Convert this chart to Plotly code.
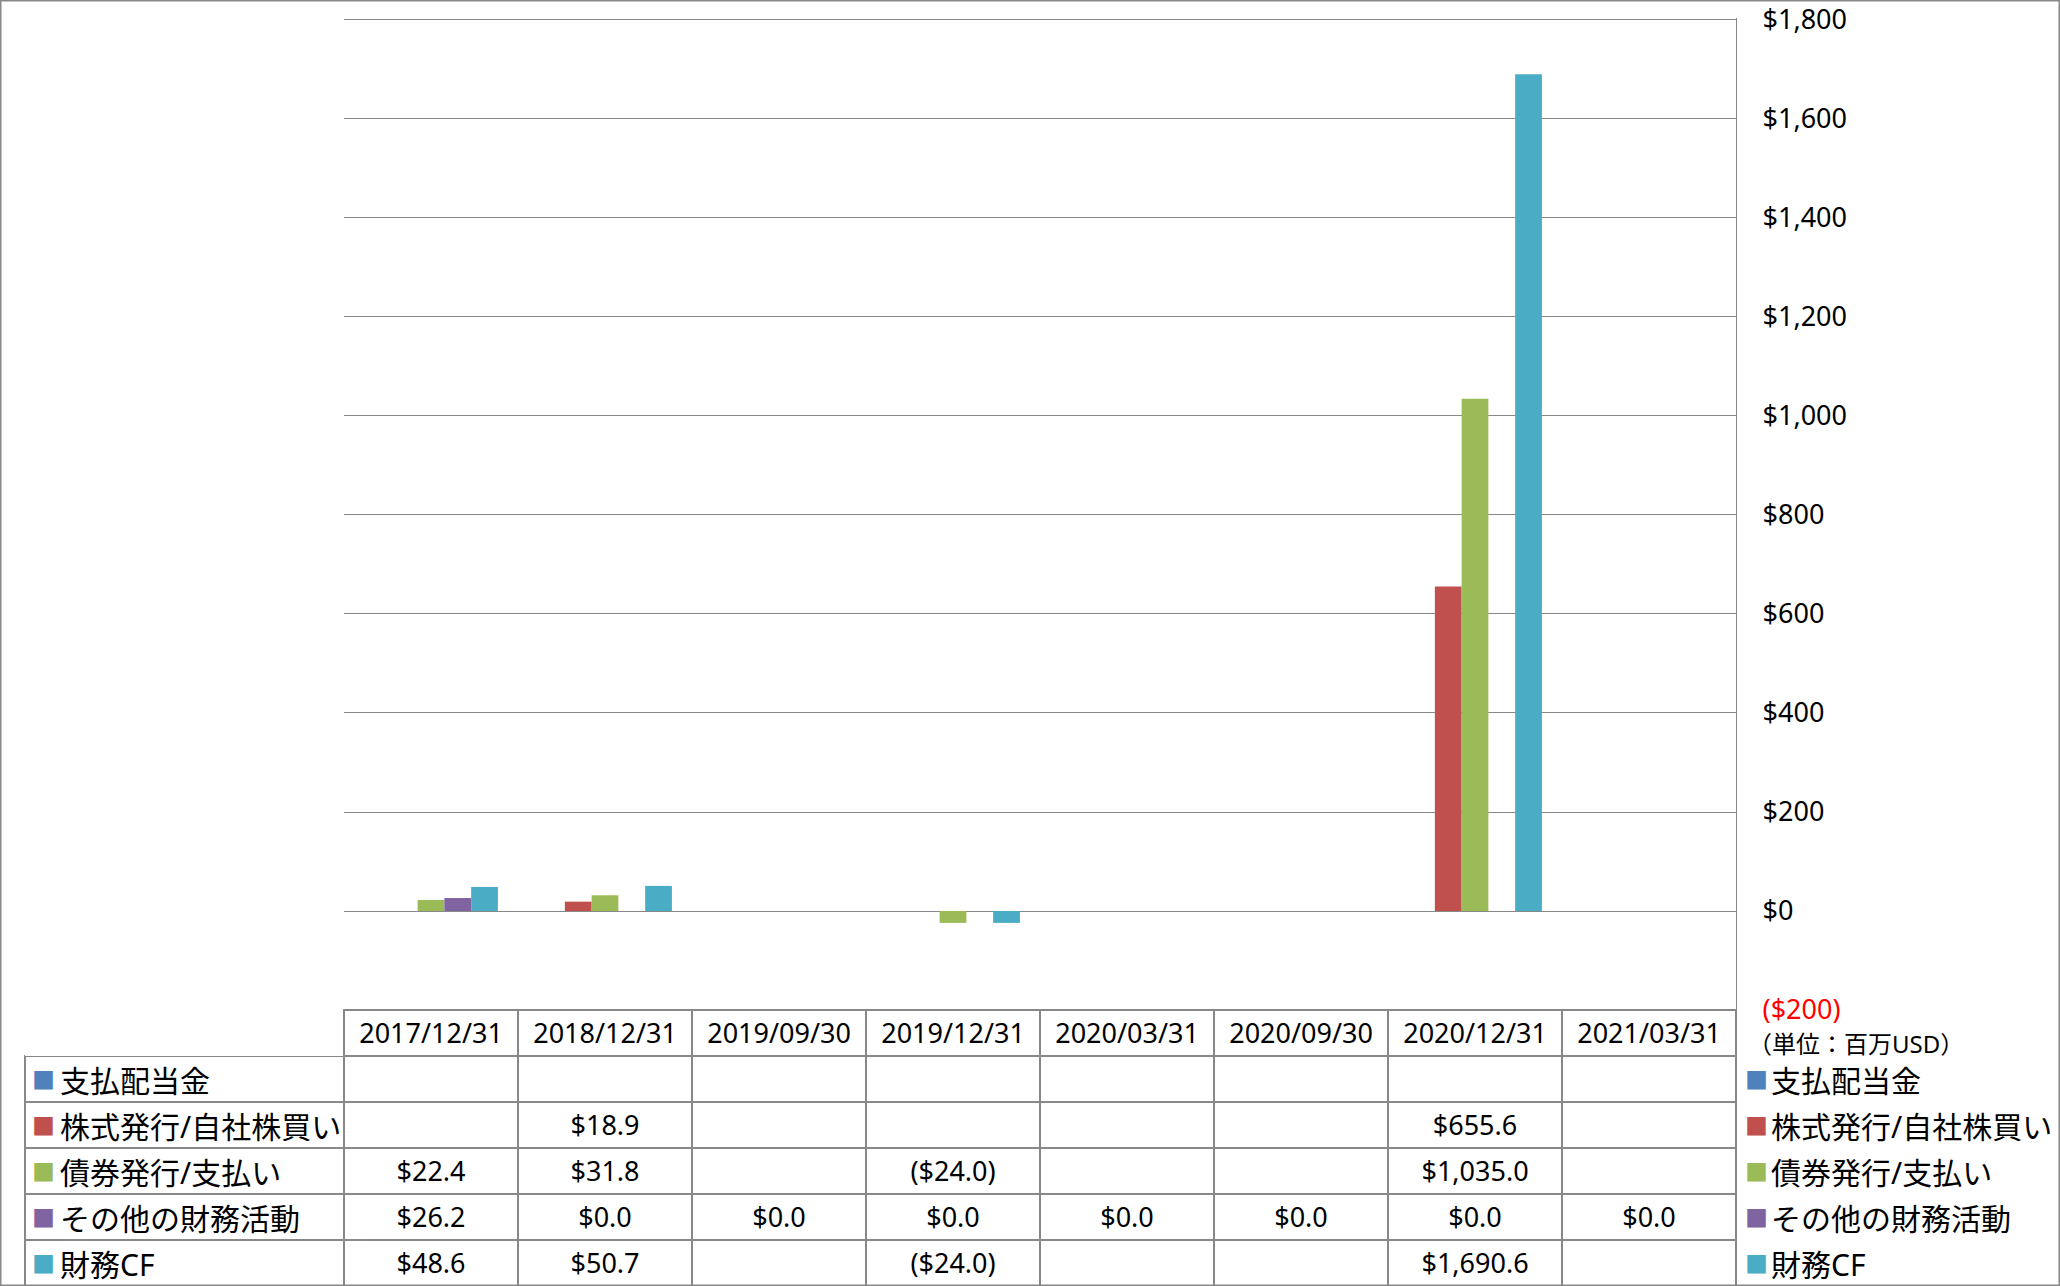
import plotly.graph_objects as go

# ---------------- data ----------------
categories = ["2017/12/31", "2018/12/31", "2019/09/30", "2019/12/31",
              "2020/03/31", "2020/09/30", "2020/12/31", "2021/03/31"]
series_names = ["支払配当金", "株式発行/自社株買い", "債券発行/支払い", "その他の財務活動", "財務CF"]
dividends = [None, None, None, None, None, None, None, None]
stock_issue = [None, 18.9, None, None, None, None, 655.6, None]
debt_issue = [22.4, 31.8, None, -24.0, None, None, 1035.0, None]
other_fin = [26.2, 0.0, 0.0, 0.0, 0.0, 0.0, 0.0, 0.0]
financing_cf = [48.6, 50.7, None, -24.0, None, None, 1690.6, None]
series_values = [dividends, stock_issue, debt_issue, other_fin, financing_cf]
series_colors = ["#4F81BD", "#C0504D", "#9BBB59", "#8064A2", "#4BACC6"]
y_tickvals = [-200, 0, 200, 400, 600, 800, 1000, 1200, 1400, 1600, 1800]
y_ticktext = ["<span style='color:#FF0000'>($200)</span>", "$0", "$200", "$400", "$600",
              "$800", "$1,000", "$1,200", "$1,400", "$1,600", "$1,800"]
unit_label = "（単位：百万USD）"

W, H = 2060, 1286
FONT = "Noto Sans, Noto Sans CJK JP, sans-serif"
GRID = "#888888"
CLEAR = "rgba(0,0,0,0)"


def fmt(v):
    if v is None:
        return ""
    if v < 0:
        return "(${:,.1f})".format(abs(v))
    return "${:,.1f}".format(v)


fig = go.Figure()

for name, vals, col in zip(series_names, series_values, series_colors):
    fig.add_trace(go.Bar(name=name, x=categories, y=vals, marker_color=col,
                         marker_line_width=0, showlegend=False))

# plot area geometry (pixels)
plot_l, plot_r = 344, 1736
plot_t, plot_b = 18, 1010
row_h = 46
nser = len(series_names)
ncat = len(categories)
tbl_y = [0, (H - plot_b) / H]            # grid of the data table
txt_shift = 5                             # text sits a little lower in its cells
txt_y = [0, (H - plot_b - txt_shift) / H]

value_cols = [[fmt(series_values[s][i]) for s in range(nser)] for i in range(ncat)]

# data table grid (lines only)
fig.add_trace(go.Table(
    domain=dict(x=[25 / W, plot_r / W], y=tbl_y),
    columnwidth=[plot_l - 25] + [(plot_r - plot_l) / ncat] * ncat,
    header=dict(values=[""] * (ncat + 1), height=row_h, fill_color="white",
                line=dict(color=[CLEAR] + [GRID] * ncat, width=1.3)),
    cells=dict(values=[[""] * nser] * (ncat + 1), height=row_h, fill_color="white",
               line=dict(color=GRID, width=1.3)),
))

# data table texts: categories and values
fig.add_trace(go.Table(
    domain=dict(x=[plot_l / W, plot_r / W], y=txt_y),
    header=dict(values=categories, height=row_h, fill_color=CLEAR,
                line=dict(color=CLEAR), align="center",
                font=dict(family=FONT, size=27, color="black")),
    cells=dict(values=value_cols, height=row_h, fill_color=CLEAR,
               line=dict(color=CLEAR), align="center",
               font=dict(family=FONT, size=27, color="black")),
))


def legend_block(x_key, x_text, x_end):
    # coloured squares
    fig.add_trace(go.Table(
        domain=dict(x=[x_key / W, (x_key + 40) / W], y=txt_y),
        header=dict(values=[""], height=row_h + 3, fill_color=CLEAR,
                    line=dict(color=CLEAR)),
        cells=dict(values=[["■"] * nser], height=row_h, fill_color=CLEAR,
                   line=dict(color=CLEAR), align="left",
                   font=dict(family=FONT, size=23, color=[series_colors])),
    ))
    # series names
    fig.add_trace(go.Table(
        domain=dict(x=[x_text / W, x_end / W], y=txt_y),
        header=dict(values=[""], height=row_h, fill_color=CLEAR, line=dict(color=CLEAR)),
        cells=dict(values=[series_names], height=row_h, fill_color=CLEAR,
                   line=dict(color=CLEAR), align="left",
                   font=dict(family=FONT, size=30, color="black")),
    ))


legend_block(24, 52, plot_l)        # legend keys inside the table
legend_block(1737, 1763, 2058)      # legend on the right

fig.update_layout(
    width=W, height=H,
    margin=dict(l=0, r=0, t=0, b=0, autoexpand=False),
    paper_bgcolor="white", plot_bgcolor="white",
    barmode="group", bargap=1.5 / 6.5, bargroupgap=0,
    font=dict(family=FONT, size=27, color="black"),
    xaxis=dict(domain=[plot_l / W, plot_r / W], type="category",
               range=[-0.5, ncat - 0.5], automargin=False,
               showticklabels=False, showgrid=False, zeroline=False, showline=False),
    yaxis=dict(domain=[(H - plot_b) / H, (H - plot_t) / H], side="right",
               range=[-200, 1804], tickvals=y_tickvals, ticktext=y_ticktext,
               automargin=False,
               showgrid=True, gridcolor=GRID, gridwidth=1.3,
               zeroline=True, zerolinecolor=GRID, zerolinewidth=1.3,
               showline=True, linecolor=GRID, linewidth=1.3,
               ticks="", ticklabelstandoff=20,
               tickfont=dict(family=FONT, size=27, color="black")),
    annotations=[dict(text=unit_label, xref="paper", yref="paper",
                      x=1746 / W, y=(H - 1043) / H, xanchor="left", yanchor="middle",
                      showarrow=False, font=dict(family=FONT, size=24, color="black"))],
    shapes=[dict(type="rect", xref="paper", yref="paper", x0=0, y0=0, x1=1, y1=1,
                 line=dict(color=GRID, width=3), fillcolor=CLEAR, layer="above")],
)

fig.write_html(
    "out.html",
    config={"displayModeBar": False},
    post_script=("var gd=document.getElementById('{plot_id}');"
                 "document.documentElement.style.overflow='hidden';"
                 "document.body.style.margin='0';"
                 "gd.style.position='absolute';gd.style.left='0px';gd.style.top='0px';"),
)
